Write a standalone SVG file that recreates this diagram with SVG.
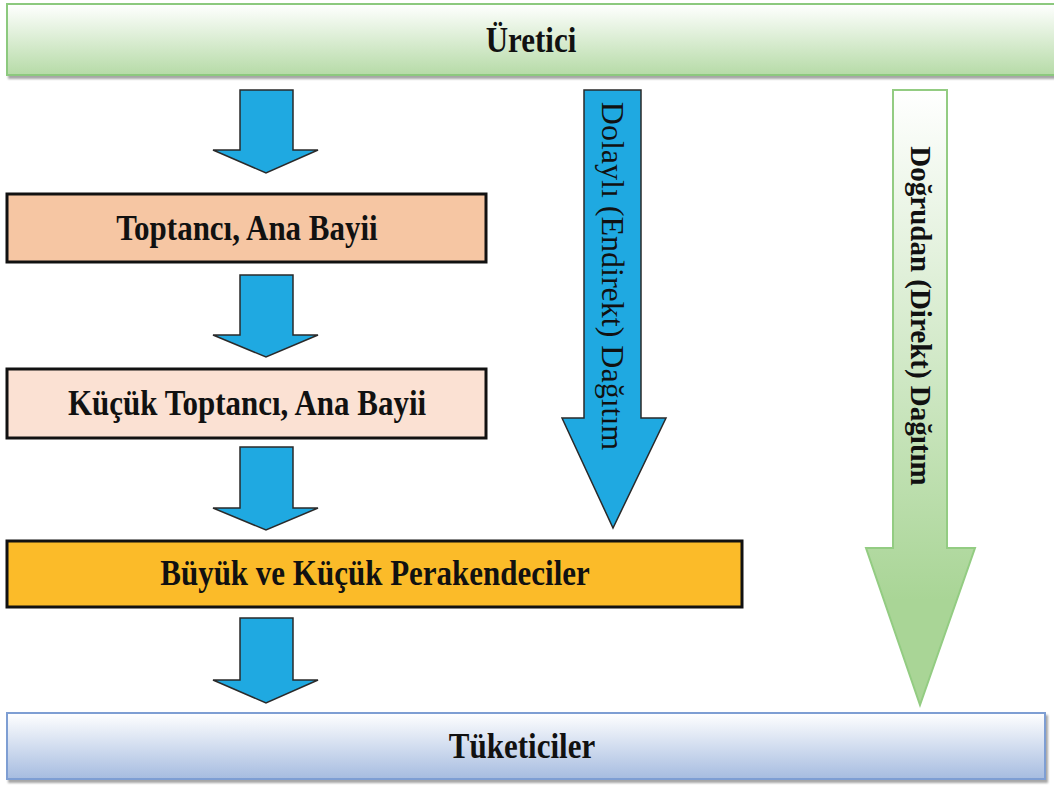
<svg xmlns="http://www.w3.org/2000/svg" width="1054" height="787" viewBox="0 0 1054 787">
<defs>
<linearGradient id="gGreen" x1="0" y1="0" x2="0" y2="1">
<stop offset="0" stop-color="#ffffff"/>
<stop offset="1" stop-color="#b6dba7"/>
</linearGradient>
<linearGradient id="gBlue" x1="0" y1="0" x2="0" y2="1">
<stop offset="0" stop-color="#ffffff"/>
<stop offset="1" stop-color="#a6bce0"/>
</linearGradient>
<linearGradient id="gArrow" gradientUnits="userSpaceOnUse" x1="0" y1="90" x2="0" y2="600">
<stop offset="0" stop-color="#ffffff"/>
<stop offset="1" stop-color="#a9d596"/>
</linearGradient>
<filter id="sh" x="-5%" y="-10%" width="110%" height="130%">
<feDropShadow dx="2" dy="3" stdDeviation="1.2" flood-color="#000" flood-opacity="0.35"/>
</filter>
</defs>
<style>
.t{font-family:'Liberation Serif','DejaVu Serif',serif;font-weight:bold;font-size:31px;fill:#111;text-anchor:middle}
.r{font-family:'Liberation Serif','DejaVu Serif',serif;fill:#111;text-anchor:middle}
.box{stroke:#111;stroke-width:3}
.sa{fill:#1fa9e1;stroke:#2a2a2a;stroke-width:1.5}
</style>
<rect width="1054" height="787" fill="#ffffff"/>
<g id="uretici">
<rect x="7" y="4" width="1060" height="71" fill="url(#gGreen)" stroke="#8cc97e" stroke-width="2" filter="url(#sh)"/>
<text class="t" transform="translate(531,52) scale(1,1.15)">Üretici</text>
</g>
<g id="toptanci">
<rect class="box" x="7" y="194" width="479" height="68" fill="#f6c6a3"/>
<text class="t" transform="translate(247,240) scale(1,1.15)">Toptancı, Ana Bayii</text>
</g>
<g id="kucuk-toptanci">
<rect class="box" x="7" y="369" width="479" height="69" fill="#fbe1d3"/>
<text class="t" transform="translate(247,415) scale(1,1.15)">Küçük Toptancı, Ana Bayii</text>
</g>
<g id="perakendeciler">
<rect class="box" x="7" y="541" width="735" height="66" fill="#fbbb29"/>
<text class="t" transform="translate(375,585) scale(1,1.15)">Büyük ve Küçük Perakendeciler</text>
</g>
<g id="tuketiciler">
<rect x="7" y="713" width="1038" height="66" fill="url(#gBlue)" stroke="#7e9ed3" stroke-width="2" filter="url(#sh)"/>
<text class="t" transform="translate(522,758) scale(1,1.15)">Tüketiciler</text>
</g>
<g id="connectors">
<path class="sa" d="M240,90 H293 V150 H318 L266,173 L213,150 H240 Z"/>
<path class="sa" d="M240,275 H293 V335 H318 L266,357 L213,335 H240 Z"/>
<path class="sa" d="M240,447 H293 V508 H318 L266,530 L213,508 H240 Z"/>
<path class="sa" d="M240,618 H293 V680 H318 L266,703 L213,680 H240 Z"/>
<g id="dolayli">
<path class="sa" d="M584,90 H641 V418 H666 L613,528 L562,418 H584 Z"/>
<text class="r" transform="translate(602,276) rotate(90)" font-size="32">Dolaylı (Endirekt) Dağıtım</text>
</g>
<g id="dogrudan">
<path d="M893,90 H947 V548 H975 L920,705 L866,548 H893 Z" fill="url(#gArrow)" stroke="#93cc82" stroke-width="2"/>
<text class="r" transform="translate(911,316) rotate(90)" font-weight="bold" font-size="29">Doğrudan (Direkt) Dağıtım</text>
</g>
</g>
</svg>
